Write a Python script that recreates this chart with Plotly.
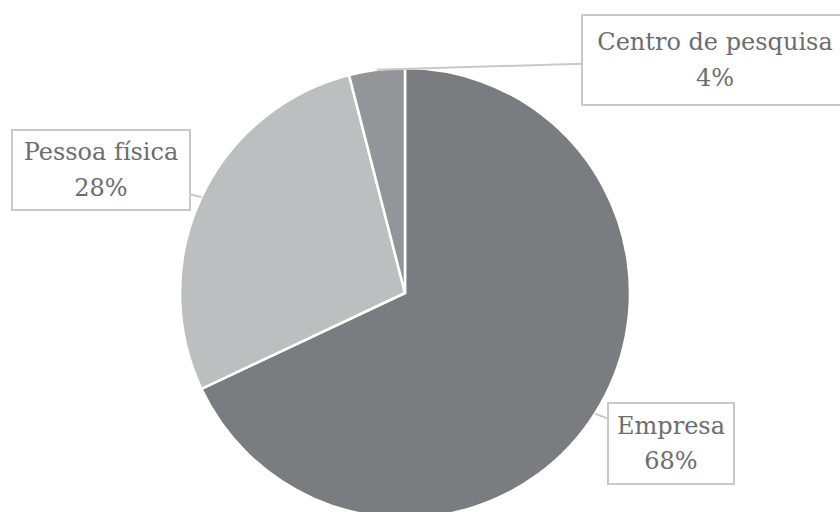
import math
import plotly.graph_objects as go

categories = ["Empresa", "Pessoa física", "Centro de pesquisa"]
values = [68, 28, 4]
slice_colors = ["#7b7c7f", "#bdbec0", "#939598"]

W, H = 840, 524
dom_x = [180 / W, 630 / W]
dom_y = [(H - 518) / H, (H - 68) / H]

fig = go.Figure(go.Pie(
    labels=categories, values=values, sort=False, direction="clockwise",
    rotation=0, marker=dict(colors=slice_colors, line=dict(color="white", width=2.5)),
    textinfo="none", hoverinfo="label+percent", showlegend=False,
    domain=dict(x=dom_x, y=dom_y),
))

# callout boxes: offsets (px) of box centre from slice edge point, box size
box_offsets = {"Empresa": (76, 30), "Pessoa física": (-100, -27), "Centro de pesquisa": (338, -10)}
box_sizes = {"Empresa": (122, 77), "Pessoa física": (174, 76), "Centro de pesquisa": (262, 86)}

cx = (dom_x[0] + dom_x[1]) / 2
cy = (dom_y[0] + dom_y[1]) / 2
r_px = min((dom_x[1] - dom_x[0]) * W, (dom_y[1] - dom_y[0]) * H) / 2
total = sum(values)
cum = 0
annotations = []
for cat, v in zip(categories, values):
    mid = (cum + v / 2) / total * 2 * math.pi
    cum += v
    px = cx + r_px * math.sin(mid) / W
    py = cy + r_px * math.cos(mid) / H
    ax, ay = box_offsets[cat]
    bw, bh = box_sizes[cat]
    pct = round(v / total * 100)
    annotations.append(dict(
        x=px, y=py, xref="paper", yref="paper",
        text=f"<span style='font-size:24px'>{cat}</span><br><span style='font-size:24px'>{pct}%</span>",
        showarrow=True, arrowhead=0,
        arrowcolor="#c9c9c9", arrowwidth=2, ax=ax, ay=ay,
        bordercolor="#c9c9c9", borderwidth=2, bgcolor="white",
        width=bw, height=bh, align="center", valign="middle",
        font=dict(family="DejaVu Serif", size=27, color="#6d6d6f"),
    ))

fig.update_layout(
    width=W, height=H, margin=dict(l=0, r=0, t=0, b=0),
    paper_bgcolor="white", plot_bgcolor="white",
    annotations=annotations,
)

fig.write_html("out.html", config={"displayModeBar": False},
               post_script="document.body.style.margin='0';document.body.style.overflow='hidden';document.documentElement.style.overflow='hidden';")
